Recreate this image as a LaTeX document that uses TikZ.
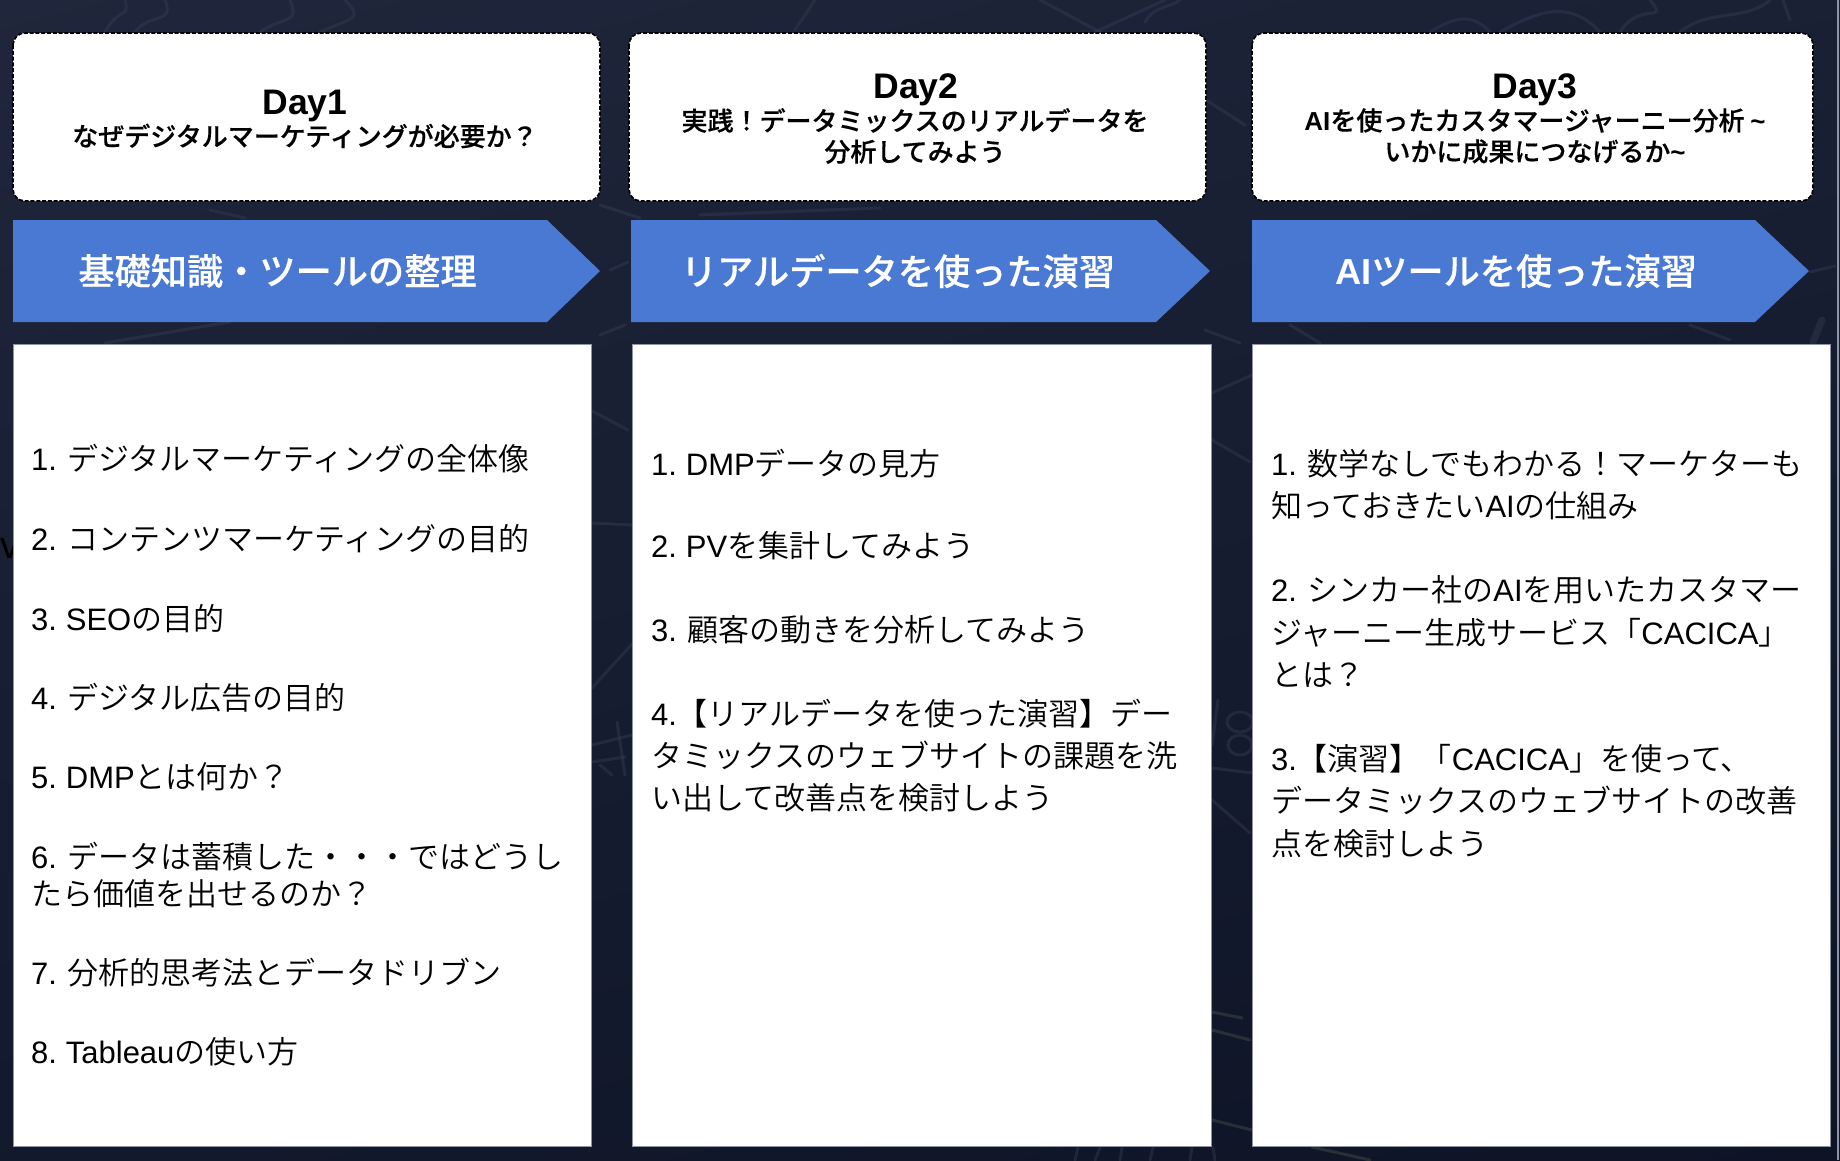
\documentclass[tikz,border=0pt]{standalone}
\usepackage{fontspec}
\setmainfont{Noto Sans CJK JP DemiLight}
\newfontfamily\lat{Liberation Sans}
\newfontfamily\jpm{Noto Sans CJK JP Medium}[FakeBold=0.35]
\newfontfamily\latb{Liberation Sans Bold}
\newcommand{\la}[1]{{\lat #1}}
\newcommand{\nm}[1]{{\lat #1\hspace{-1pt}}}
\newcommand{\lb}[1]{{\latb #1}}
\newcommand{\sps}{\hspace{9pt}}
\definecolor{bgtop}{HTML}{20263B}
\definecolor{bgbottom}{HTML}{0E1426}
\definecolor{chalk}{HTML}{39405A}
\definecolor{chalky}{HTML}{3F4A40}
\definecolor{banner}{HTML}{4A79D3}
\definecolor{edge}{HTML}{8D94A6}
\tikzset{
  x=1pt,y=-1pt,
  daybox/.style={draw=black,dash pattern=on 4pt off 1.8pt,line width=1.6pt,fill=white,rounded corners=12pt},
  bannershape/.style={fill=banner},
  panel/.style={fill=white,draw=edge,line width=0.6pt},
  chalkline/.style={draw=chalk,line width=3pt,line cap=round,opacity=0.38},
  chalkyellow/.style={draw=chalky,line width=3pt,line cap=round,opacity=0.5},
  daytitle/.style={anchor=center,align=center,font=\fontsize{35.5}{38}\selectfont\latb},
  daysub/.style={anchor=center,align=center,font=\fontsize{26}{31}\selectfont\jpm},
  bannertext/.style={anchor=center,text=white,font=\fontsize{36.2}{40}\selectfont\jpm},
  item/.style={anchor=base west,font=\fontsize{31}{36}\selectfont,text=black},
}
\begin{document}
\begin{tikzpicture}
\useasboundingbox (0,0) rectangle (1840,1160);
\shade[top color=bgtop,bottom color=bgbottom,shading angle=15] (-200,-150) rectangle (2040,1310);
\clip (0,0) rectangle (1840,1160);
% faint chalk scribbles
\draw[chalkline] (105,32) .. controls (120,5) and (130,20) .. (125,0);
\draw[chalkline] (135,32) .. controls (150,12) and (175,25) .. (165,0);
\draw[chalkline] (260,32) .. controls (285,15) and (300,25) .. (290,0);
\draw[chalkline] (320,32) .. controls (350,18) and (365,20) .. (345,0);
\draw[chalkline] (795,30) -- (815,0);
\draw[chalkline] (1040,0) -- (1100,32) -- (1245,125);
\draw[chalkline] (1165,0) -- (1095,32);
\draw[chalkline] (1145,22) .. controls (1155,5) and (1170,8) .. (1180,0);
\draw[chalkline] (1430,32) .. controls (1450,20) and (1470,10) .. (1490,32);
\draw[chalkline] (1500,32) .. controls (1540,10) and (1570,0) .. (1600,32);
\draw[chalkline] (1620,32) .. controls (1640,0) and (1670,25) .. (1650,0);
\draw[chalkline] (1680,32) .. controls (1710,8) and (1745,22) .. (1770,0);
\draw[chalkline] (1790,20) -- (1783,0);
% between rows
\draw[chalkline] (230,322) -- (105,343);
\draw[chalkline] (210,210) -- (245,218);
\draw[chalkline] (600,205) -- (640,218);
\draw[chalkline] (610,270) -- (628,262);
\draw[chalkline] (700,215) -- (880,208);
\draw[chalkline] (1205,330) -- (1240,343);
\draw[chalkline] (1290,325) -- (1320,343);
\draw[chalkline] (1690,325) -- (1730,340);
\draw[chalkline] (1810,272) -- (1835,266);
\draw[chalkline,line width=7pt] (1813,342) -- (1822,320);
% gap 1
\draw[chalkline] (592,411) -- (628,430);
\draw[chalkline] (592,523) -- (632,525);
\draw[chalkline] (592,688) -- (632,644);
\draw[chalkline] (617,722) -- (625,775);
\draw[chalkline] (592,745) -- (632,735);
\draw[chalkline] (592,762) -- (625,757);
\draw[chalkline] (600,765) -- (612,775);
\draw[chalkline] (600,335) -- (625,325);
% gap 2
\draw[chalkline] (1212,393) -- (1252,375);
\draw[chalkline] (1212,440) -- (1250,462);
\draw[chalkline] (1240,722) ellipse [x radius=13pt,y radius=10pt];
\draw[chalkline] (1240,745) ellipse [x radius=12pt,y radius=10pt];
\draw[chalkline] (1218,700) -- (1212,745);
\draw[chalkline] (1212,768) -- (1252,773);
\draw[chalkline] (1212,800) -- (1250,833);
\draw[chalkyellow] (1212,1012) -- (1242,1018);
\draw[chalkyellow] (1212,1030) -- (1250,1040);
\draw[chalkyellow] (1212,1120) -- (1252,1130);
% bottom
\draw[chalkline] (1075,1160) -- (1078,1148);
\draw[chalkline] (1095,1160) -- (1100,1148);
\draw[chalkline] (1120,1160) -- (1122,1148);
\draw[chalkline] (1150,1160) -- (1153,1148);
\draw[chalkline] (1190,1160) -- (1192,1148);
\draw[chalkline] (1215,1160) -- (1213,1148);
\draw[chalkyellow] (1312,1147) -- (1370,1160);
% stray letter at the left edge, behind the panel
\node[anchor=base west,inner sep=0pt,text=black,font=\fontsize{38}{40}\selectfont\lat] (stray) at (0,558) {v};
% right edge strip
\fill[edge] (1837,0) rectangle (1838.6,1160);
% boxes
\path[daybox] (13,33) rectangle (600,201);
\path[daybox] (629,33) rectangle (1206,201);
\path[daybox] (1252,33) rectangle (1813,201);
\fill[bannershape] (13,220) -- (547,220) -- (600,271) -- (547,322) -- (13,322) -- cycle;
\fill[bannershape] (631,220) -- (1156,220) -- (1210,271) -- (1156,322) -- (631,322) -- cycle;
\fill[bannershape] (1252,220) -- (1755,220) -- (1809,271) -- (1755,322) -- (1252,322) -- cycle;
\path[panel] (13,344) rectangle (591,1146);
\path[panel] (632,344) rectangle (1211,1146);
\path[panel] (1252,344) rectangle (1830,1146);
% heads
\node[daytitle] (d1) at (305,106) {Day1};
\node[daysub] (s1) at (305,136) {なぜデジタルマーケティングが必要か？};
\node[daytitle] (d2) at (916,90) {Day2};
\node[daysub] (s2) at (915,136) {実践！データミックスのリアルデータを\\分析してみよう};
\node[daytitle] (d3) at (1535,90) {Day3};
\node[daysub] (s3) at (1535,136) {\lb{AI}を使ったカスタマージャーニー分析 \lb{\textasciitilde}\\いかに成果につなげるか\lb{\textasciitilde}};
\node[bannertext] (b1) at (277.5,271) {基礎知識・ツールの整理};
\node[bannertext] (b2) at (898,271) {リアルデータを使った演習};
\node[bannertext] (b3) at (1516,271) {\lb{AI}ツールを使った演習};
% day 1
\node[item] (a1) at (27.5,470) {\nm{1. }デジタルマーケティングの全体像};
\node[item] (a2) at (27.5,550) {\nm{2. }コンテンツマーケティングの目的};
\node[item] (a3) at (27.5,630) {{\lat 3.\sps SEO}の目的};
\node[item] (a4) at (27.5,709) {\nm{4. }デジタル広告の目的};
\node[item] (a5) at (27.5,788) {{\lat 5.\sps DMP}とは何か？};
\node[item] (a6) at (27.5,868) {\nm{6. }データは蓄積した・・・ではどうし};
\node[item] (a6b) at (27.5,905) {たら価値を出せるのか？};
\node[item] (a7) at (27.5,984) {\nm{7. }分析的思考法とデータドリブン};
\node[item] (a8) at (27.5,1063) {{\lat 8.\sps Tableau}の使い方};
% day 2
\node[item] (b1i) at (647.5,475) {{\lat 1.\sps DMP}データの見方};
\node[item] (b2i) at (647.5,557) {{\lat 2.\sps PV}を集計してみよう};
\node[item] (b3i) at (647.5,641) {\nm{3. }顧客の動きを分析してみよう};
\node[item] (b4i) at (647.5,725) {\la{4.}【リアルデータを使った演習】デー};
\node[item] (b4j) at (647.5,767) {タミックスのウェブサイトの課題を洗};
\node[item] (b4k) at (647.5,809) {い出して改善点を検討しよう};
% day 3
\node[item] (c1i) at (1267.5,475) {\nm{1. }数学なしでもわかる！マーケターも};
\node[item] (c1j) at (1267.5,517) {知っておきたい\la{AI}の仕組み};
\node[item] (c2i) at (1267.5,601) {\nm{2. }シンカー社の\la{AI}を用いたカスタマー};
\node[item] (c2j) at (1267.5,644) {ジャーニー生成サービス「\la{CACICA}」};
\node[item] (c2k) at (1267.5,686) {とは？};
\node[item] (c3i) at (1267.5,770) {\la{3.}【演習】「\la{CACICA}」を使って、};
\node[item] (c3j) at (1267.5,812) {データミックスのウェブサイトの改善};
\node[item] (c3k) at (1267.5,855) {点を検討しよう};
\end{tikzpicture}
\end{document}
